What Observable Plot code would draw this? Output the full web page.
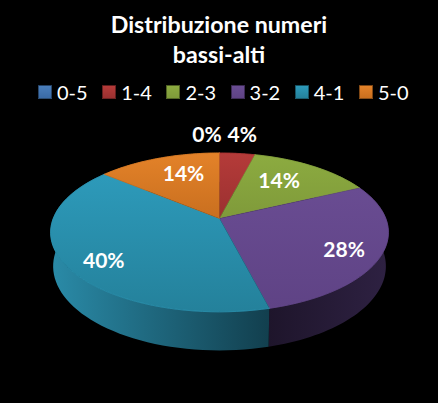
<!DOCTYPE html>
<html><head><meta charset="utf-8">
<script src="https://cdn.jsdelivr.net/npm/d3@7"></script>
<script src="https://cdn.jsdelivr.net/npm/@observablehq/plot@0.6"></script>
<style>
html,body{margin:0;padding:0;background:#000;width:438px;height:403px;overflow:hidden}
#head{height:108px;color:#fff;font-family:Lato,sans-serif;position:relative}
#title{position:absolute;top:9px;left:0;width:438px;text-align:center;font-weight:700;font-size:23.2px;line-height:30px}
#legend{position:absolute;top:80px;left:38px;display:flex;font-size:20px;line-height:24px}
#legend .it{width:64.2px;display:flex;align-items:center}
#legend .sw{width:12px;height:12px;margin-right:5px;border:.5px solid #0006}
svg{display:block}
</style></head><body>
<div id="head"><div id="title">Distribuzione numeri<br>bassi-alti</div><div id="legend"></div></div>
<script>
const categories = ["0-5","1-4","2-3","3-2","4-1","5-0"];
const values = [0,4,14,28,40,14];
const labels = ["0%","4%","14%","28%","40%","14%"];
const topLight = ["#4a7ebb","#b53b39","#8cab40","#694c92","#2d9aba","#e38229"];
const topDark  = ["#3a6aa5","#9a3030","#7f9a3a","#5f4385","#24819b","#c96f1f"];
const sideLight = ["#2b4a70","#7a2524","#5c7228","#1e152b","#2a8ba8","#a3591b"];
const sideDark  = ["#1d3450","#561a19","#3d4c1a","#2e2142","#123f4e","#703d12"];
const labelRadius = [1.33,1.34,0.656,0.8,0.81,0.68];
const labelShift = [-4,0,-3,4,-6,4.5];

const k = -0.175, shrink = 0.985, depth = 0.429, xUnit = 166.3, yUnit = 77, plotH = 295, cy = 110;
const total = d3.sum(values);
const project = (a, r = 1, lower = false) => {
  const u = r * Math.sin(a), v = -r * Math.cos(a), den = 1 + k * v, s = lower ? shrink : 1;
  return {x: s * u / den, y: (s * v + (lower ? depth : 0)) / den};
};
let acc = 0;
const slices = categories.map((c, i) => {
  const start = acc / total * 2 * Math.PI;
  acc += values[i];
  return {c, i, start, end: acc / total * 2 * Math.PI};
}).filter(d => d.end > d.start);
const arc = d => d3.range(0, 61).map(j => d.start + (d.end - d.start) * j / 60);
const topPoly = d => [{x: 0, y: 0}, ...arc(d).map(a => project(a))];
const sidePoly = d => [...arc(d).map(a => project(a)), ...arc(d).reverse().map(a => project(a, 1, true))];

const texts = categories.map((c, i) => {
  const prev = d3.sum(values.slice(0, i));
  const mid = (prev + values[i] / 2) / total * 2 * Math.PI + labelShift[i] * Math.PI / 180;
  return {...project(mid, labelRadius[i]), t: labels[i]};
});

const defs = () => {
  const s = d3.create("svg:defs");
  const g = (id, x2, y2, a, b) => {
    const l = s.append("linearGradient").attr("id", id).attr("x1", 0).attr("y1", 0).attr("x2", x2).attr("y2", y2);
    l.append("stop").attr("offset", 0).attr("stop-color", a);
    l.append("stop").attr("offset", 1).attr("stop-color", b);
  };
  categories.forEach((c, i) => { g("t" + i, 0, 1, topLight[i], topDark[i]); g("s" + i, 1, 0, sideLight[i], sideDark[i]); });
  return s.node();
};

const legend = d3.select("#legend");
categories.forEach((c, i) => {
  const it = legend.append("div").attr("class", "it");
  it.append("span").attr("class", "sw").style("background", `linear-gradient(${topLight[i]},${topDark[i]})`);
  it.append("span").text(c);
});

const chart = Plot.plot({
  width: 438, height: plotH, margin: 0,
  x: {domain: [-219 / xUnit, 219 / xUnit], range: [0, 438], axis: null},
  y: {domain: [-cy / yUnit, (plotH - cy) / yUnit], range: [0, plotH], axis: null},
  style: {background: "#000", overflow: "visible"},
  marks: [
    defs,
    ...slices.map(d => Plot.line(sidePoly(d), {x: "x", y: "y", fill: `url(#s${d.i})`, stroke: "none", curve: "linear"})),
    ...slices.map(d => Plot.line(topPoly(d), {x: "x", y: "y", fill: `url(#t${d.i})`, stroke: topDark[d.i], strokeWidth: 0.5, curve: "linear"})),
    ...slices.map(d => Plot.line(arc(d).map(a => project(a)), {x: "x", y: "y", stroke: topLight[d.i], strokeWidth: 0.8, strokeOpacity: 0.8, curve: "linear"})),
    Plot.text(texts, {x: "x", y: "y", text: "t", fill: "#fff", fontSize: 21, fontWeight: 700, fontFamily: "Lato, sans-serif"})
  ]
});
document.body.appendChild(chart);
</script>
</body></html>
